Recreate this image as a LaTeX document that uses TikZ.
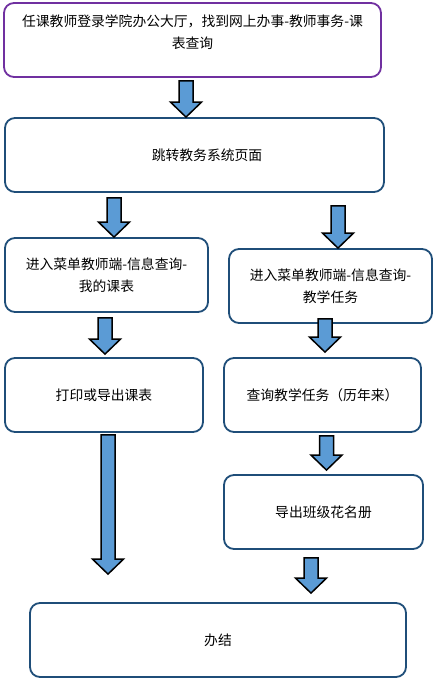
\documentclass[tikz,border=0pt]{standalone}
\usepackage{fontspec}
\usepackage{tikz}
\usetikzlibrary{positioning,calc}
\newfontfamily\cjk{Noto Sans CJK SC}
\definecolor{flowpurple}{HTML}{7030A0}
\definecolor{flowblue}{HTML}{1F4E79}
\definecolor{arrowblue}{HTML}{5B9BD5}
% block arrow: x, upper node, lower node, gap above, gap below
\newcommand{\blockarrow}[5]{%
    \path let \p1=(#2.south), \p2=(#3.north),
        \n1={\y1-(#4)*1pt}, \n2={\y2+(#5)*1pt}, \n3={\y2+(#5)*1pt+15pt} in
        [bigarrow] ({(#1-7)*1pt},\n1) -- ({(#1+7)*1pt},\n1) -- ({(#1+7)*1pt},\n3)
        -- ({(#1+15.5)*1pt},\n3) -- ({#1*1pt},\n2) -- ({(#1-15.5)*1pt},\n3)
        -- ({(#1-7)*1pt},\n3) -- cycle;}

\begin{document}
\begin{tikzpicture}[
    x=1pt, y=-1pt,
    box/.style={
        rectangle, draw=flowblue, line width=1.8pt, rounded corners=10pt,
        minimum height=74pt, align=center,
        font=\cjk\fontsize{13.8}{22}\selectfont
    },
    bigarrow/.style={draw=black, line width=1.5pt, fill=arrowblue, line join=miter}
]
\useasboundingbox (0,0) rectangle (436,681);

\node[box, draw=flowpurple, minimum width=377pt, text depth=17pt] (login) at (192.5,40)
    {任课教师登录学院办公大厅，找到网上办事-教师事务-课\\表查询};
\node[box, minimum width=379pt] (portal) at (194.5,155) {\hspace*{25pt}跳转教务系统页面};
\node[box, minimum width=203pt] (mytable) at (106.5,275) {进入菜单教师端-信息查询-\\我的课表};
\node[box, minimum width=203pt] (menutask) at (330.5,286) {进入菜单教师端-信息查询-\\教学任务};
\node[box, minimum width=198pt] (print)  at (104,395) {打印或导出课表};
\node[box, minimum width=197pt] (query)  at (322.5,395) {查询教学任务（历年来）};
\node[box, minimum width=199pt] (roster) at (323.5,512) {导出班级花名册};
\node[box, minimum width=376pt] (done)   at (218,640) {办结};

\blockarrow{186}{login}{portal}{3}{0}
\blockarrow{114}{portal}{mytable}{5}{0}
\blockarrow{338}{portal}{menutask}{13}{0}
\blockarrow{105}{mytable}{print}{5}{3}
\blockarrow{325}{menutask}{query}{-5}{5}
\blockarrow{108}{print}{done}{2}{28}
\blockarrow{326.5}{query}{roster}{3}{4}
\blockarrow{311}{roster}{done}{8}{9}
\end{tikzpicture}
\end{document}
